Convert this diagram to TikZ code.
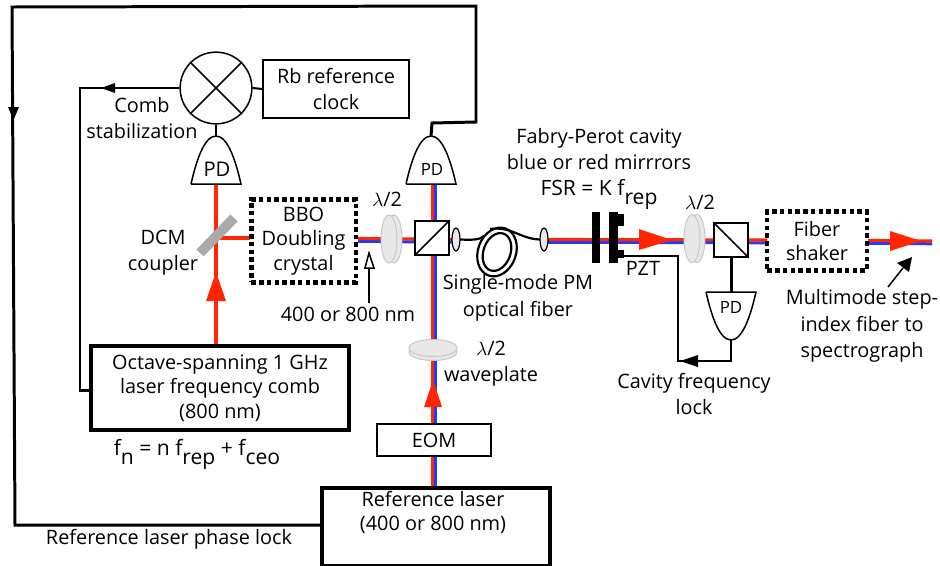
\documentclass[tikz,border=0pt]{standalone}
\usepackage{fontspec}
\setmainfont{Open Sans}
\usepackage{tikz}
\newlength{\pxu}
\setlength{\pxu}{0.5669pt}
\newcommand{\lowered}[1]{\raisebox{-0.8ex}{#1}}
\tikzset{
  lockline/.style={line width=3*\pxu},
  redbeam/.style={line width=3.2*\pxu,color=beamred},
  bluebeam/.style={line width=3*\pxu,color=beamblue},
  box/.style={draw,fill=white,align=center,inner sep=0pt,line width=2*\pxu},
  lasercase/.style={draw,fill=white,align=center,inner sep=0pt,line width=4*\pxu},
  dotbox/.style={draw,align=center,inner sep=0pt,line width=4.6*\pxu,dash pattern=on 4.6*\pxu off 3.2*\pxu},
  plate/.style={fill=platefill,draw=plateedge,line width=1*\pxu},
  cube/.style={draw,fill=white,inner sep=0pt,line width=1.6*\pxu,minimum size=34*\pxu},
  coil/.style={line width=2.2*\pxu},
  label/.style={align=center,inner sep=0pt},
  pdup/.pic={
    \draw[fill=white,line width=1.5*\pxu] (-25,0) -- (25,0) .. controls (20,-22) and (12,-48) .. (0,-48) .. controls (-12,-48) and (-20,-22) .. (-25,0);
    \coordinate (-top) at (0,-48);
    \coordinate (-base) at (0,0);
  },
  pddown/.pic={
    \draw[fill=white,line width=1.5*\pxu] (-25,0) -- (25,0) .. controls (20,22) and (12,48) .. (0,48) .. controls (-12,48) and (-20,22) .. (-25,0);
    \coordinate (-top) at (0,0);
    \coordinate (-base) at (0,48);
  }
}
\definecolor{beamred}{RGB}{255,38,0}
\definecolor{beamblue}{RGB}{30,60,255}
\definecolor{platefill}{RGB}{232,232,232}
\definecolor{plateedge}{RGB}{200,200,200}
\definecolor{mirrorgrey}{RGB}{170,170,170}
\begin{document}
\begin{tikzpicture}[x=0.02cm,y=-0.02cm,every node/.style={font=\fontsize{11.3}{12}\selectfont}]
  \useasboundingbox (0,0) rectangle (940,565);

  % beam end points
  \coordinate (beamA) at (358,238.5);
  \coordinate (beamB) at (456,239.5);
  \coordinate (beamC) at (544,239.5);
  \coordinate (beamD) at (767,240);
  \coordinate (beamE) at (868,240.5);
  \coordinate (beamF) at (932,241);
  \coordinate (pdtwofoot) at (432.5,184);
  \coordinate (reftop) at (432.5,486);
  \coordinate (pdonefoot) at (216,184);
  \coordinate (combtop) at (216,345);
  \coordinate (dcmhit) at (216,238);
  \coordinate (bbohit) at (250,238);

  \foreach \from/\to in {beamA/beamB,beamC/beamD,beamE/beamF}{
    \draw[bluebeam] ([yshift=-2.8*\pxu]\from) -- ([yshift=-2.8*\pxu]\to);
    \draw[redbeam] (\from) -- (\to);
  }
  \draw[bluebeam] ([xshift=3.4*\pxu]pdtwofoot) -- ([xshift=3.4*\pxu]reftop);
  \draw[redbeam] (pdtwofoot) -- (reftop);
  \draw[redbeam] (pdonefoot) -- (combtop);
  \draw[redbeam] (dcmhit) -- (bbohit);

  % boxes
  \node[circle,draw,line width=1.5*\pxu,minimum size=72*\pxu,inner sep=0pt] (mixer) at (216,88) {};
  \node[box,minimum width=146*\pxu,minimum height=58*\pxu] (rbclock) at (336,89) {Rb reference\\[3pt]clock};
  \node[lasercase,minimum width=260*\pxu,minimum height=85*\pxu] (comblaser) at (220,388) {Octave-spanning 1 GHz\\[2pt]laser frequency comb\\[2pt](800 nm)};
  \node[box,minimum width=114*\pxu,minimum height=33*\pxu] (eom) at (434,440) {EOM};
  \node[lasercase,minimum width=229*\pxu,minimum height=78*\pxu,anchor=north] (reflaser) at (436,486) {};
  \node[label] (reflasertext) at (433,512.5) {Reference laser\\[2pt](400 or 800 nm)};
  \node[dotbox,minimum width=105*\pxu,minimum height=83*\pxu] (bbo) at (303.5,241) {BBO\\[2pt]Doubling\\[2pt]crystal};
  \node[dotbox,minimum width=100*\pxu,minimum height=59*\pxu] (shaker) at (817,241) {Fiber\\[2pt]shaker};

  % red arrows on the beams
  \fill[beamred] (216,272) -- (226,301) -- (206,301) -- cycle;
  \fill[beamred] (433,380) -- (442,407) -- (424,407) -- cycle;
  \fill[beamred] (672,240) -- (639,229) -- (639,250) -- cycle;
  \fill[beamred] (921,241) -- (890,231) -- (890,251) -- cycle;

  % coupler
  \draw[mirrorgrey,line width=10*\pxu] (200,253) -- (234,218);

  % wave plates
  \draw[plate] (394,239) ellipse (8 and 24);
  \draw[plate] (389,239) ellipse (8 and 24);
  \draw[plate] (697,238.5) ellipse (8 and 24);
  \draw[plate] (692,238.5) ellipse (8 and 24);
  \draw[plate] (433,352) ellipse (24 and 8.5);
  \draw[plate] (433,348) ellipse (24 and 8.5);

  % cubes
  \node[cube] (cubeA) at (432,238) {};
  \draw[line width=1.6*\pxu] (cubeA.south west) -- (cubeA.north east);
  \node[cube] (cubeB) at (731,240) {};
  \draw[line width=1.6*\pxu] (cubeB.north west) -- (cubeB.south east);

  % fiber
  \draw[line width=1.2*\pxu,fill=platefill] (456,239.5) ellipse (4 and 11.5);
  \draw[line width=1.2*\pxu,fill=platefill] (544,239.5) ellipse (4 and 11.5);
  \coordinate (lensA) at (460,239.5);
  \coordinate (lensB) at (540,239.5);
  \draw[coil] (lensA) .. controls (472,240) and (480,240) .. (484,236);
  \draw[coil] (490,229) .. controls (512,226) and (520,239) .. (lensB);
  \draw[coil,rotate around={-20:(497,252)}] (497,252) ellipse (19 and 25);
  \draw[coil,rotate around={-20:(497,252)}] (497,252) ellipse (13.5 and 19.5);

  % cavity mirrors
  \fill (592,212) rectangle (600,263);
  \fill (609,212) rectangle (618,263);
  \fill (618,214) rectangle (624,226);
  \fill (618,250) rectangle (624,258);
  \coordinate (pzttab) at (624,256);

  % detectors
  \pic (pdone) at (216,184) {pdup};
  \pic (pdtwo) at (431,184) {pdup};
  \pic (pdthree) at (731,292) {pddown};
  \node[label,font=\fontsize{11.5}{12}\selectfont] (pdonelabel) at (217,169) {PD};
  \node[label,font=\fontsize{9.6}{12}\selectfont] (pdtwolabel) at (432,169) {PD};
  \node[label,font=\fontsize{9.6}{12}\selectfont] (pdthreelabel) at (731,307) {PD};

  % mixer and links
  \draw[line width=1.5*\pxu] (mixer.45) -- (mixer.225);
  \draw[line width=1.5*\pxu] (mixer.135) -- (mixer.315);
  \draw[line width=2*\pxu] (mixer.east) -- (rbclock.west);
  \draw[line width=1.5*\pxu] (mixer.south) -- (pdone-top);

  % lock loops
  \coordinate (turnA) at (432,123);
  \coordinate (turnC) at (476,122);
  \coordinate (turnD) at (476,6);
  \coordinate (turnE) at (12,7);
  \coordinate (turnF) at (15,525);
  \draw[lockline] (pdtwo-top) -- (turnA) -- (turnC) -- (turnD) -- (turnE) -- (turnF) -- (reflaser.west |- turnF);
  \fill (13.5,120) -- (8,107) -- (19,107) -- cycle;
  \coordinate (combA) at (80,88);
  \coordinate (combB) at (80,390);
  \draw[lockline] (mixer.west) -- (combA) -- (combB) -- (comblaser.west |- combB);
  \fill (101,88) -- (115,83) -- (115,93) -- cycle;
  \coordinate (cavA) at (678,256);
  \coordinate (cavB) at (678,361);
  \coordinate (cavC) at (731,361);
  \draw[line width=1.8*\pxu] (pzttab) -- (cavA) -- (cavB) -- (cavC) -- (pdthree-base);
  \fill (680,361) -- (698,355) -- (698,367) -- cycle;
  \draw[lockline] (cubeB.south) -- (pdthree-top);

  % pointers
  \coordinate (pointA) at (369,303);
  \coordinate (pointB) at (369,267);
  \draw[line width=1.5*\pxu] (pointA) -- (pointB);
  \draw[line width=1.5*\pxu,fill=white] (369,253) -- (374,268) -- (365,268) -- cycle;
  \coordinate (pointC) at (888,287);
  \coordinate (pointD) at (903,268);
  \draw[line width=1.5*\pxu] (pointC) -- (pointD);
  \fill (912,257) -- (909,272) -- (897,263) -- cycle;

  % labels
  \node[label] (combstab) at (142,118) {Comb\\[3pt]stabilization};
  \node[label] (dcmlabel) at (163,252.5) {DCM\\[3pt]coupler};
  \node[label] (halfwaveA) at (387,199) {$\lambda$/2};
  \node[label] (halfwaveB) at (700,202) {$\lambda$/2};
  \node[label] (wavelength) at (348,314) {400 or 800 nm};
  \node[label] (fpcavity) at (599,149) {Fabry-Perot cavity\\[3pt]blue or red mirrrors};
  \node[label,font=\fontsize{12}{12}\selectfont] (fsr) at (599,194) {FSR = K f\lowered{rep}};
  \node[label] (pztlabel) at (643,268) {PZT};
  \node[label] (pmfiber) at (518,298) {Single-mode PM\\[3pt]optical fiber};
  \node[label] (multimode) at (862,326) {Multimode step-\\[3pt]index fiber to\\[3pt]spectrograph};
  \node[label] (cavlock) at (694,394) {Cavity frequency\\[3pt]lock};
  \node[label] (waveplate) at (491,364) {$\lambda$/2\\[3pt]waveplate};
  \node[label,font=\fontsize{12}{12}\selectfont] (combeq) at (197,454) {f\lowered{n} = n f\lowered{rep} + f\lowered{ceo}};
  \node[label] (reflock) at (169,539) {Reference laser phase lock};
\end{tikzpicture}
\end{document}
